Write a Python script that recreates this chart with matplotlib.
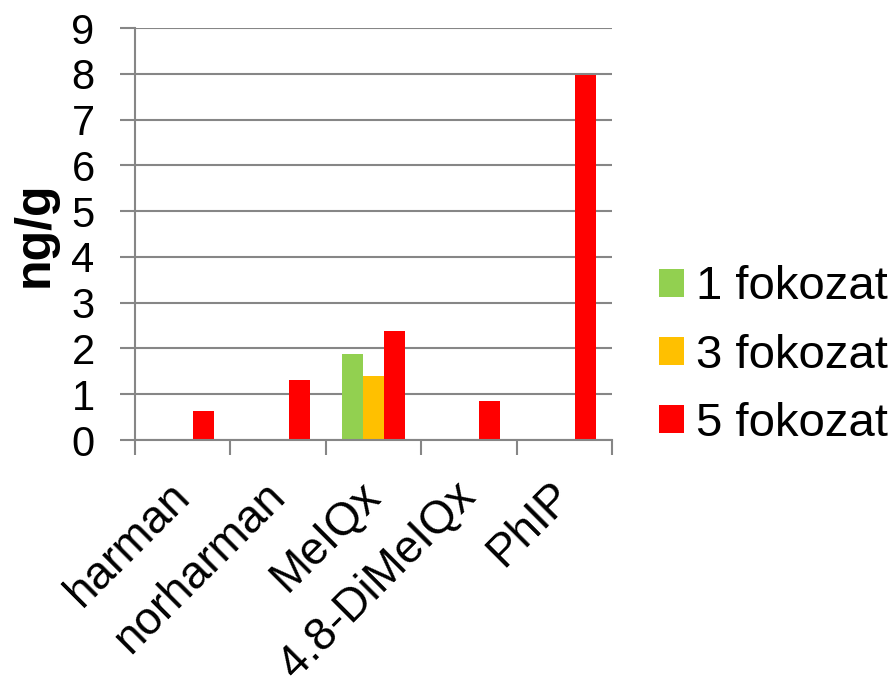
import numpy as np
import matplotlib.pyplot as plt
import matplotlib.transforms as mtransforms

plt.rcParams['font.family'] = ['Liberation Sans', 'DejaVu Sans']

categories = ['harman', 'norharman', 'MeIQx', '4.8-DiMeIQx', 'PhIP']
series_names = ['1 fokozat', '3 fokozat', '5 fokozat']
fok1 = [0, 0, 1.87, 0, 0]
fok3 = [0, 0, 1.39, 0, 0]
fok5 = [0.64, 1.30, 2.39, 0.845, 7.98]
colors = ['#92d050', '#ffc000', '#ff0000']

fig = plt.figure(figsize=(8.95, 6.85), dpi=100)
ax = fig.add_axes([135 / 895, 1 - 440 / 685, 477 / 895, 412 / 685])

x = np.arange(len(categories))
w = 0.22
for i, (vals, name) in enumerate(zip([fok1, fok3, fok5], series_names)):
    ax.bar(x + (i - 1) * w, vals, w, color=colors[i], label=name, zorder=3)

grey = '#868686'
ax.set_xlim(-0.5, len(categories) - 0.5)
ax.set_ylim(0, 9)
ax.set_yticks(range(10))
ax.yaxis.grid(True, color=grey, linewidth=1.5, zorder=0)
for s in ['top', 'right']:
    ax.spines[s].set_visible(False)
for s in ['left', 'bottom']:
    ax.spines[s].set_color(grey)
    ax.spines[s].set_linewidth(1.5)
    ax.spines[s].set_zorder(4)

# category ticks at boundaries, labels at centres
ax.set_xticks(np.arange(len(categories) + 1) - 0.5)
ax.set_xticklabels([])
ax.set_xticks(x, minor=True)
ax.set_xticklabels(categories, minor=True, rotation=45, ha='right',
                   rotation_mode='anchor', fontsize=33)
ax.tick_params(axis='x', which='major', length=11, width=1.5, color=grey)
ax.tick_params(axis='x', which='minor', length=0, pad=20)
ax.tick_params(axis='y', length=11, width=1.5, color=grey, labelsize=30, pad=18)

offset = mtransforms.ScaledTranslation(-15 / 100, -6 / 100, fig.dpi_scale_trans)
for lab in ax.get_xticklabels(minor=True):
    lab.set_transform(lab.get_transform() + offset)

ax.set_ylabel('ng/g', fontsize=36, fontweight='bold', labelpad=10)

ax.legend(loc='center left', bbox_to_anchor=((659 - 135) / 477, 0.205),
          frameon=False, borderpad=0, borderaxespad=0,
          fontsize=34, handlelength=0.53, handleheight=0.53, handletextpad=0.25,
          labelspacing=0.51)

fig.savefig('out.png', dpi=100)
